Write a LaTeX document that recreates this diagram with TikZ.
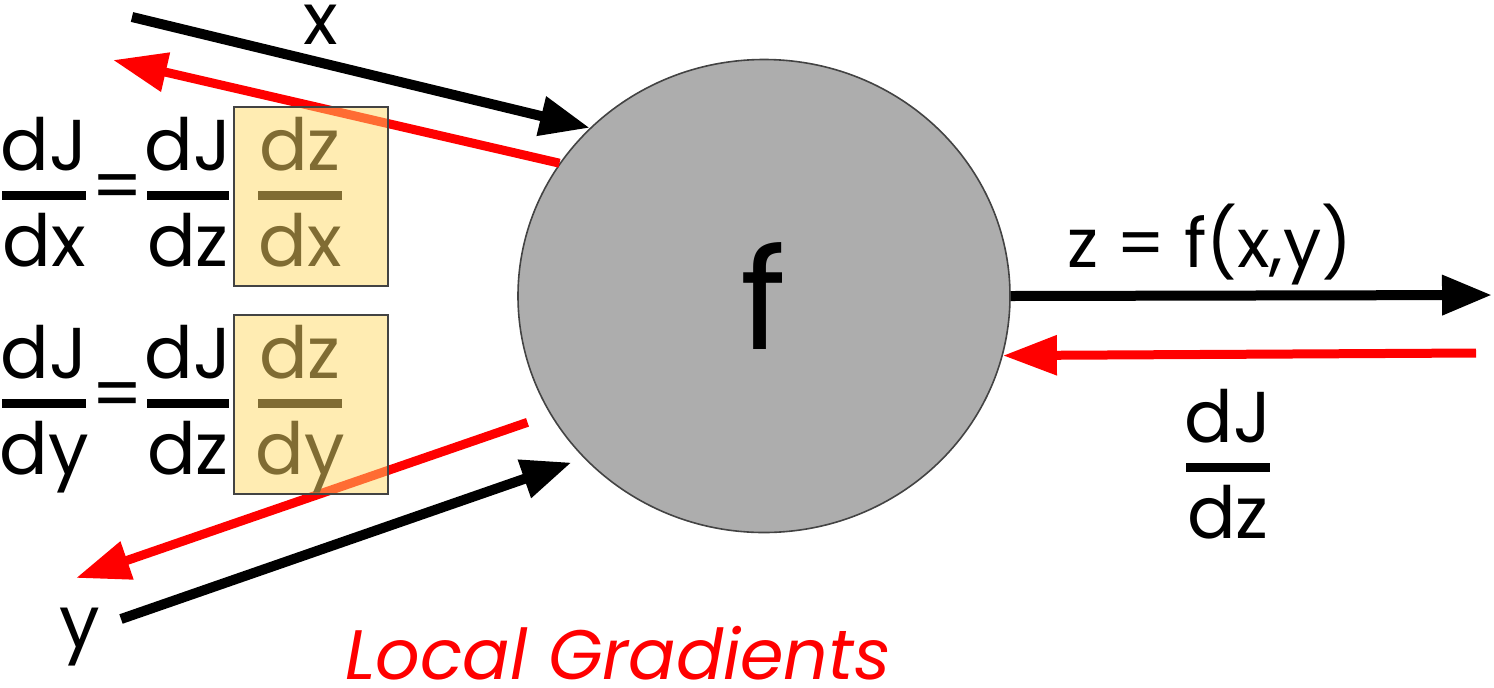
\documentclass[tikz,border=0pt]{standalone}
\usepackage{fontspec}
\setmainfont{Poppins}
\usetikzlibrary{shapes.geometric,arrows.meta}
\definecolor{nodegray}{HTML}{ADADAD}
\definecolor{boxyellow}{HTML}{FFD966}
\definecolor{boxedge}{HTML}{434343}
\tikzset{
  lbl/.style      = {inner sep=0pt, font=\fontsize{36}{40}\selectfont},
  fwd/.style      = {-{Triangle[length=25pt,width=19pt]}, line width=5pt},
  bwd/.style      = {-{Triangle[length=27pt,width=19pt]}, line width=4.5pt, red},
  fbar/.style     = {line width=4.5pt},
  localbox/.style = {draw=boxedge, line width=1.2pt, fill=boxyellow,
                     fill opacity=0.5, draw opacity=1},
  fnode/.style    = {ellipse, draw=boxedge, fill=nodegray, line width=0.8pt,
                     minimum width=246pt, minimum height=236.5pt, inner sep=0pt,
                     font=\fontsize{70}{80}\selectfont}
}
% fraction: name, x, y of bar, half width, numerator, denominator
\newcommand{\gradfrac}[6]{%
  \node[lbl, anchor=base] (#1-num) at (#2,#3-25) {#5};
  \draw[fbar] (#2-#4,#3) -- (#2+#4,#3);
  \node[lbl, anchor=base] (#1-den) at (#2,#3+71) {#6};}

\begin{document}
\begin{tikzpicture}[x=0.5pt, y=-0.5pt]
\useasboundingbox (0,0) rectangle (1494,687);

\node[fnode] (f) at (764,296) {f};

% inputs and their gradients
\coordinate (xin)  at (132,17);
\coordinate (xout) at (113,60);
\coordinate (yin)  at (121,619);
\coordinate (yout) at (76,578);
\coordinate (zout) at (1492,295);
\coordinate (zin)  at (1476,353);

\draw[fwd] (xin) -- (f.136);
\draw[bwd] (f.147) -- (xout);
\draw[fwd, shorten >=6.5pt] (yin) -- (f.222);
\draw[bwd, shorten <=12pt] (f.209) -- (yout);
\draw[fwd] (f.east) -- (zout);
\draw[bwd] (zin) -- (f.-14);

\node[lbl, anchor=base] (xlbl) at (321,44) {x};
\node[lbl, anchor=base] (ylbl) at (80,647) {y};
\node[lbl, anchor=base, font=\fontsize{34}{40}\selectfont]
  (zlbl) at (1210,267) {z = f(x,y)};
\node[lbl, anchor=base, red, font=\fontsize{35}{40}\selectfont\itshape]
  (locgrad) at (618,679) {Local Gradients};

% chain rule
\gradfrac{dJdx}{44}{195}{42}{dJ}{dx}
\node[lbl] (eq1) at (118,193) {=};
\gradfrac{dJdza}{188}{195}{41}{dJ}{dz}
\gradfrac{dzdx}{300}{195}{42}{dz}{dx}

\gradfrac{dJdy}{44}{403}{42}{dJ}{dy}
\node[lbl] (eq2) at (118,401) {=};
\gradfrac{dJdzb}{188}{403}{41}{dJ}{dz}
\gradfrac{dzdy}{300}{403}{42}{dz}{dy}

\gradfrac{dJdz}{1228}{467}{42}{dJ}{dz}

\draw[localbox] (234,107) rectangle (388,286);
\draw[localbox] (234,315) rectangle (388,494);
\end{tikzpicture}
\end{document}
